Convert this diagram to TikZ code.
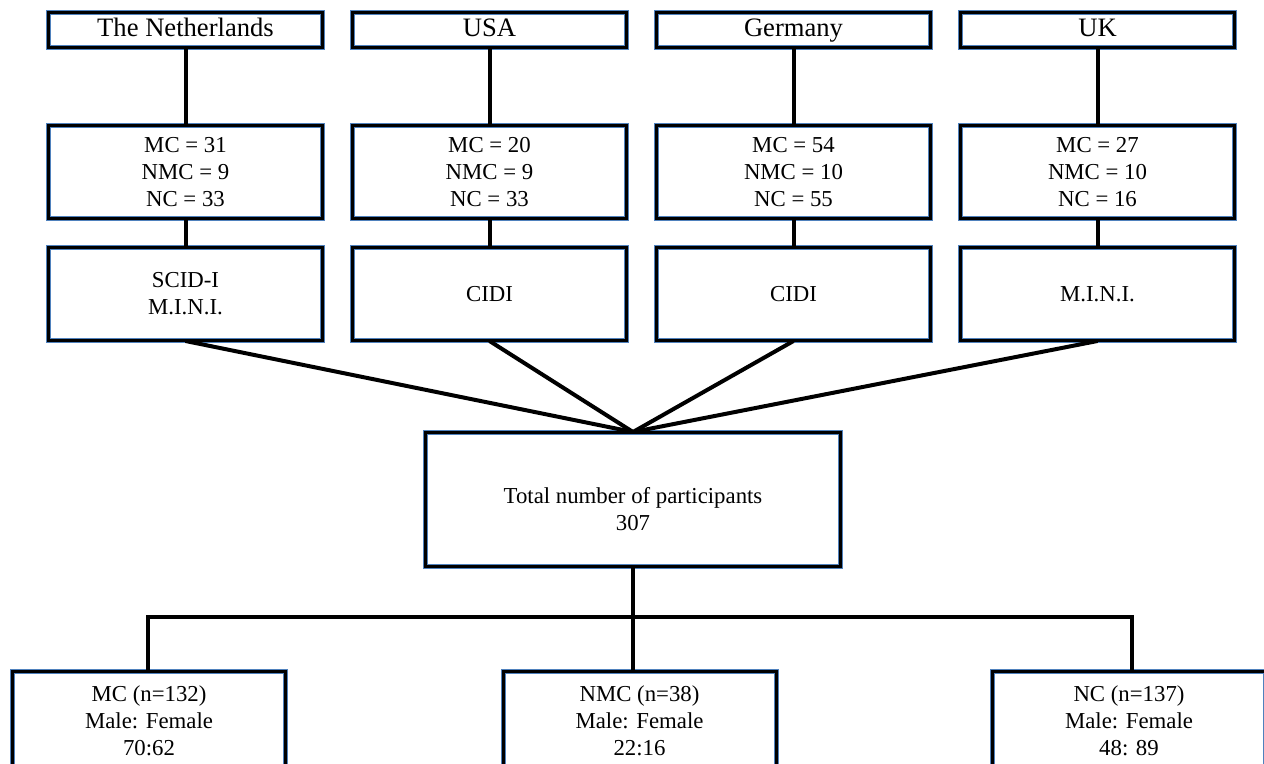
\documentclass[tikz,border=0pt]{standalone}
\usepackage{fontspec}
\setmainfont{Liberation Serif}
\definecolor{frameblue}{RGB}{79,129,189}
\tikzset{
  box/.style={draw=frameblue, line width=0.5pt, double=black, double distance=1.5pt,
    fill=white, align=center, inner sep=0pt, minimum width=137pt,
    font=\fontsize{11.4}{13.6}\selectfont},
  countrybox/.style={box, minimum height=17.5pt, text height=9.5pt, text depth=2.5pt,
    font=\fontsize{13.3}{15}\selectfont},
  countbox/.style={box, minimum height=46.5pt},
  groupbox/.style={box, minimum width=136.5pt, minimum height=50pt},
  link/.style={line width=2pt}
}
\begin{document}
\begin{tikzpicture}[x=0.5pt,y=-0.5pt]
    \useasboundingbox (0,0) rectangle (1264,764);
    \clip (0,0) rectangle (1264,764);

    % Countries
    \node[countrybox] (nl) at (185.5,30) {The Netherlands};
    \node[countrybox] (usa) at (489.5,30) {USA};
    \node[countrybox] (ger) at (793.5,30) {Germany};
    \node[countrybox] (uk) at (1097.5,30) {UK};

    % Group counts
    \node[countbox] (nlcount) at (185.5,172) {MC = 31\\NMC = 9\\NC = 33};
    \node[countbox] (usacount) at (489.5,172) {MC = 20\\NMC = 9\\NC = 33};
    \node[countbox] (gercount) at (793.5,172) {MC = 54\\NMC = 10\\NC = 55};
    \node[countbox] (ukcount) at (1097.5,172) {MC = 27\\NMC = 10\\NC = 16};

    % Interviews
    \node[countbox] (nlint) at (185.5,294) {SCID-I\\M.I.N.I.};
    \node[countbox] (usaint) at (489.5,294) {CIDI};
    \node[countbox] (gerint) at (793.5,294) {CIDI};
    \node[countbox] (ukint) at (1097.5,294) {M.I.N.I.};

    % Total
    \node[box, minimum width=207.5pt, minimum height=67pt, text height=31pt] (total)
        at (633,499.5) {Total number of participants\\307};

    % Groups
    \node[groupbox] (mc) at (149,721) {MC (n=132)\\Male: Female\\70:62};
    \node[groupbox] (nmc) at (639.5,721) {NMC (n=38)\\Male: Female\\22:16};
    \node[groupbox] (nc) at (1129,721) {NC (n=137)\\Male: Female\\48: 89};

    % Vertical links
    \draw[link] (nl) -- (nlcount);
    \draw[link] (usa) -- (usacount);
    \draw[link] (ger) -- (gercount);
    \draw[link] (uk) -- (ukcount);
    \draw[link] (nlcount) -- (nlint);
    \draw[link] (usacount) -- (usaint);
    \draw[link] (gercount) -- (gerint);
    \draw[link] (ukcount) -- (ukint);

    % Links into the total
    \draw[link] (nlint.south) -- (total.north);
    \draw[link] (usaint.south) -- (total.north);
    \draw[link] (gerint.south) -- (total.north);
    \draw[link] (ukint.south) -- (total.north);

    % Split into groups
    \coordinate (barL) at (148,617);
    \coordinate (barR) at (1132,617);
    \draw[link] (barL |- mc.north) -- (barL) -- (barR) -- (barR |- nc.north);
    \draw[link] (total.south) -- (total.south |- nmc.north);
\end{tikzpicture}
\end{document}
